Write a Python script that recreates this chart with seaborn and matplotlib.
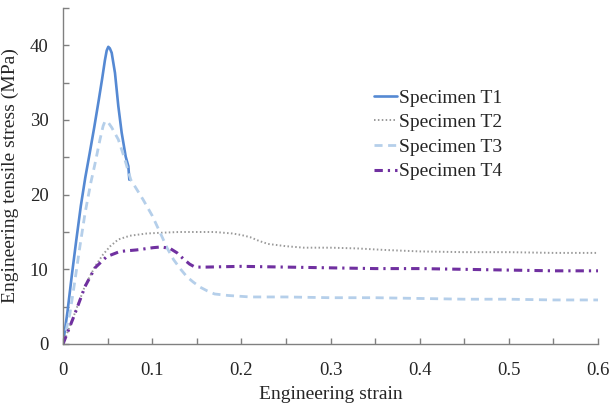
import numpy as np
import pandas as pd
import matplotlib
matplotlib.use("Agg")
import matplotlib.pyplot as plt
import seaborn as sns

# Engineering stress-strain readings for the four tensile specimens
t1_strain = [0, 0.005, 0.010, 0.015, 0.020, 0.025, 0.030, 0.035, 0.040, 0.044,
             0.047, 0.049, 0.0508, 0.0525, 0.0546, 0.0583, 0.062, 0.0658,
             0.0703, 0.0733, 0.0744]
t1_stress = [0, 4.3, 9.3, 14.0, 18.5, 22.3, 25.6, 29.0, 32.6, 35.6,
             38.0, 39.3, 39.8, 39.6, 39.0, 36.3, 31.9, 28.3,
             25.1, 23.8, 22.0]

t2_strain = [0, 0.0135, 0.0247, 0.036, 0.045, 0.053, 0.062, 0.075, 0.094,
             0.11, 0.13, 0.15, 0.17, 0.19, 0.20, 0.21, 0.22, 0.23, 0.25, 0.27,
             0.30, 0.33, 0.36, 0.40, 0.45, 0.50, 0.55, 0.60]
t2_stress = [0, 4.2, 7.8, 10.4, 12.0, 13.1, 14.0, 14.5, 14.8,
             14.9, 15.0, 15.0, 15.0, 14.8, 14.6, 14.3, 13.8, 13.4, 13.1, 12.9,
             12.9, 12.8, 12.6, 12.4, 12.3, 12.3, 12.2, 12.2]

t3_strain = [0, 0.0078, 0.0135, 0.019, 0.0247, 0.031, 0.036, 0.0415, 0.045,
             0.047, 0.050, 0.0546, 0.062, 0.0684, 0.076, 0.0807, 0.090, 0.100,
             0.109, 0.117, 0.124, 0.132, 0.139, 0.146, 0.154, 0.162, 0.170,
             0.185, 0.21, 0.25, 0.30, 0.35, 0.40, 0.45, 0.50, 0.55, 0.60]
t3_stress = [0, 4.1, 8.6, 13.1, 17.5, 21.5, 24.2, 27.4, 29.2,
             29.8, 29.8, 29.0, 27.4, 25.1, 22.0, 21.1, 19.3, 17.2,
             14.9, 12.8, 11.3, 10.0, 9.0, 8.3, 7.6, 7.1, 6.7,
             6.5, 6.3, 6.3, 6.2, 6.2, 6.1, 6.0, 6.0, 5.9, 5.9]

t4_strain = [0, 0.0135, 0.0247, 0.0359, 0.049, 0.064, 0.0826, 0.101, 0.11,
             0.12, 0.128, 0.135, 0.142, 0.148, 0.16, 0.20, 0.25, 0.30, 0.35,
             0.40, 0.45, 0.50, 0.55, 0.60]
t4_stress = [0, 4.1, 7.7, 10.2, 11.7, 12.4, 12.6, 12.9, 13.0,
             12.8, 12.2, 11.4, 10.7, 10.3, 10.3, 10.4, 10.3, 10.2, 10.1,
             10.1, 10.0, 9.9, 9.8, 9.8]

series_names = ["Specimen T1", "Specimen T2", "Specimen T3", "Specimen T4"]
x_ticks = [0, 0.1, 0.2, 0.3, 0.4, 0.5, 0.6]
x_tick_labels = ["0", "0.1", "0.2", "0.3", "0.4", "0.5", "0.6"]
y_ticks = [0, 10, 20, 30, 40]

frames = []
for name, xs, ys in zip(series_names,
                        [t1_strain, t2_strain, t3_strain, t4_strain],
                        [t1_stress, t2_stress, t3_stress, t4_stress]):
    frames.append(pd.DataFrame({"strain": xs, "stress": ys, "specimen": name}))
df = pd.concat(frames, ignore_index=True)

sns.set_theme(style="ticks")
plt.rcParams["font.family"] = ["Liberation Serif", "DejaVu Serif"]
plt.rcParams["lines.scale_dashes"] = False
plt.rcParams["lines.solid_joinstyle"] = "round"
plt.rcParams["lines.dash_joinstyle"] = "round"

styles = {
    "Specimen T1": dict(color="#5589d3", lw=1.9, ls="-"),
    "Specimen T2": dict(color="#9a9a9a", lw=1.4, ls=(0, (1.1, 1.7))),
    "Specimen T3": dict(color="#b5cfea", lw=2.0, ls=(0, (5.8, 4.0))),
    "Specimen T4": dict(color="#7030a0", lw=2.2, ls=(0, (6.0, 3.6, 1.6, 3.6))),
}

fig = plt.figure(figsize=(6.11, 4.05), dpi=100)
ax = fig.add_axes([63 / 611, 1 - 344 / 405, (598 - 63) / 611, (344 - 8) / 405])

for name in series_names:
    st = styles[name]
    sub = df[df["specimen"] == name]
    sns.lineplot(data=sub, x="strain", y="stress", ax=ax, color=st["color"],
                 linewidth=st["lw"], linestyle=st["ls"], label=name,
                 sort=False, estimator=None)

ax.set_xlim(0, 0.6)
ax.set_ylim(0, 45)
ax.set_xticks(x_ticks)
ax.set_xticklabels(x_tick_labels)
ax.set_xticks(np.arange(0.05, 0.6, 0.1), minor=True)
ax.set_yticks(y_ticks)
ax.set_yticks([5, 15, 25, 35, 45], minor=True)

text_color = "#262626"
spine_color = "#808080"
for side in ["top", "right"]:
    ax.spines[side].set_visible(False)
for side in ["left", "bottom"]:
    ax.spines[side].set_color(spine_color)
    ax.spines[side].set_linewidth(1.0)

ax.tick_params(axis="both", which="both", direction="in", length=4.5,
               width=1.0, color=spine_color, labelsize=13.5,
               labelcolor=text_color)
ax.tick_params(axis="y", which="both", pad=10.5)
ax.tick_params(axis="x", which="both", pad=13)

ax.set_xlabel("Engineering strain", fontsize=14, color=text_color)
ax.set_ylabel("Engineering tensile stress (MPa)", fontsize=14, color=text_color)
ax.xaxis.set_label_coords(0.5, -0.125)
ax.yaxis.set_label_coords(-0.082, 0.5)

leg = ax.legend(loc="upper left", bbox_to_anchor=(374 / 611, 1 - 89 / 405),
                bbox_transform=fig.transFigure, frameon=False, fontsize=14,
                handlelength=1.2, handletextpad=0.1, labelspacing=0.36,
                borderpad=0, borderaxespad=0)
for t in leg.get_texts():
    t.set_color(text_color)

fig.savefig("out.png", dpi=100)
